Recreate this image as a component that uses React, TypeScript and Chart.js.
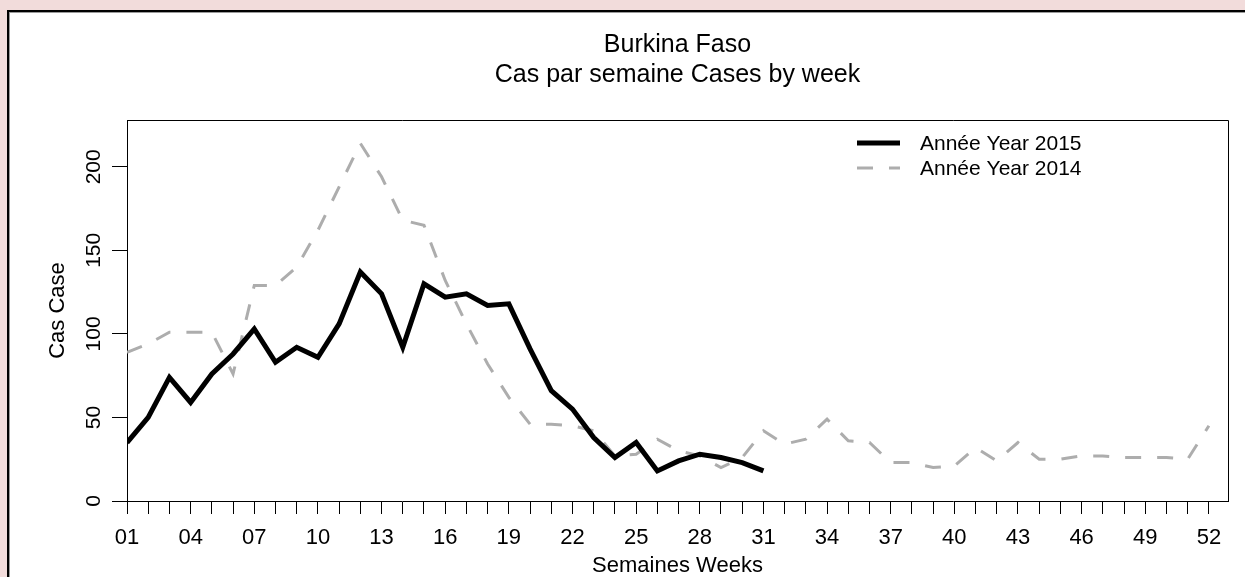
import React, { useEffect, useRef } from 'react';
import { Chart, registerables } from 'chart.js';

Chart.register(...registerables);

const weeks = [
  1, 2, 3, 4, 5, 6, 7, 8, 9, 10, 11, 12, 13, 14, 15, 16, 17, 18, 19, 20, 21, 22, 23, 24, 25, 26,
  27, 28, 29, 30, 31, 32, 33, 34, 35, 36, 37, 38, 39, 40, 41, 42, 43, 44, 45, 46, 47, 48, 49, 50, 51, 52,
];

const cases2015 = [
  35, 50, 74, 59, 76, 88, 103, 83, 92, 86, 106, 137, 124, 92, 130, 122, 124, 117, 118, 91, 66, 55, 38,
  26, 35, 18, 24, 28, 26, 23, 18,
];

const cases2014 = [
  89, 94, 101, 101, 101, 76, 129, 129, 140, 162, 188, 214, 194, 168, 165, 132, 106, 82, 62, 46, 46, 45,
  42, 27, 28, 37, 30, 27, 20, 26, 42, 34, 37, 49, 36, 35, 23, 23, 20, 21, 32, 24, 35, 25, 25, 27, 27, 26,
  26, 26, 25, 45,
];

const seriesLabels = ['Année Year 2015', 'Année Year 2014'];
const titleText = 'Burkina Faso';
const subtitleText = 'Cas par semaine Cases by week';
const xTitle = 'Semaines Weeks';
const yTitle = 'Cas Case';

const FONT = '"Liberation Sans", Arial, Helvetica, sans-serif';

const frameAndLegend = {
  id: 'frameAndLegend',
  afterDraw(chart: any) {
    const { ctx, chartArea } = chart;
    ctx.save();
    // top & right frame lines
    ctx.strokeStyle = '#000';
    ctx.lineWidth = 1;
    ctx.beginPath();
    ctx.moveTo(Math.round(chartArea.left) + 0.5, Math.round(chartArea.top) + 0.5);
    ctx.lineTo(Math.round(chartArea.right) + 0.5, Math.round(chartArea.top) + 0.5);
    ctx.lineTo(Math.round(chartArea.right) + 0.5, Math.round(chartArea.bottom) + 0.5);
    ctx.stroke();

    // legend inside the plot, top right
    const x0 = chartArea.right - 371;
    chart.data.datasets.forEach((ds: any, i: number) => {
      const y = chartArea.top + 23 + i * 25;
      ctx.beginPath();
      ctx.strokeStyle = ds.borderColor;
      ctx.lineWidth = ds.borderWidth;
      ctx.lineCap = 'butt';
      ctx.setLineDash(ds.borderDash || []);
      ctx.moveTo(x0, y);
      ctx.lineTo(x0 + 43, y);
      ctx.stroke();
      ctx.setLineDash([]);
      ctx.fillStyle = '#000';
      ctx.font = `21px ${FONT}`;
      ctx.textBaseline = 'middle';
      ctx.textAlign = 'left';
      ctx.fillText(ds.label, x0 + 63, y + 1);
    });
    ctx.restore();
  },
};

export default function App() {
  const canvasRef = useRef<HTMLCanvasElement | null>(null);

  useEffect(() => {
    const canvas = canvasRef.current;
    if (!canvas) return;
    const chart = new Chart(canvas, {
      type: 'line',
      data: {
        labels: weeks,
        datasets: [
          {
            label: seriesLabels[0],
            data: cases2015,
            borderColor: '#000000',
            borderWidth: 5,
            pointRadius: 0,
            tension: 0,
            fill: false,
            borderJoinStyle: 'miter',
          },
          {
            label: seriesLabels[1],
            data: cases2014,
            borderColor: '#adadad',
            borderWidth: 3,
            borderDash: [16, 16],
            pointRadius: 0,
            tension: 0,
            fill: false,
          },
        ],
      },
      options: {
        responsive: false,
        animation: false,
        layout: { padding: { left: 47, right: 17, top: 0, bottom: 0 } },
        plugins: {
          legend: { display: false },
          tooltip: { enabled: false },
          title: {
            display: true,
            text: titleText,
            color: '#000',
            fullSize: false,
            font: { family: FONT, size: 25, weight: 'normal', lineHeight: 1.2 },
            padding: { top: 30, bottom: 0 },
          },
          subtitle: {
            display: true,
            text: subtitleText,
            color: '#000',
            fullSize: false,
            font: { family: FONT, size: 25, weight: 'normal', lineHeight: 1.2 },
            padding: { top: 0, bottom: 30 },
          },
        },
        scales: {
          x: {
            type: 'linear',
            min: 1,
            max: 52.9,
            afterFit: (scale: any) => {
              scale.height = 76;
            },
            border: { display: true, color: '#000', width: 1 },
            grid: {
              drawOnChartArea: false,
              drawTicks: true,
              tickLength: 13,
              color: '#000',
              lineWidth: 1,
            },
            ticks: {
              stepSize: 1,
              autoSkip: false,
              includeBounds: false,
              maxRotation: 0,
              minRotation: 0,
              padding: 11,
              color: '#000',
              font: { family: FONT, size: 22, lineHeight: 1.2 },
              callback: (v: any) => {
                const n = Number(v);
                return (n - 1) % 3 === 0 ? String(n).padStart(2, '0') : '';
              },
            },
            title: {
              display: true,
              text: xTitle,
              color: '#000',
              font: { family: FONT, size: 22, lineHeight: 1 },
              padding: { top: 0, bottom: 0 },
            },
          },
          y: {
            type: 'linear',
            min: 0,
            max: 228,
            afterFit: (scale: any) => {
              scale.width = 80;
            },
            border: { display: true, color: '#000', width: 1 },
            grid: {
              drawOnChartArea: false,
              drawTicks: true,
              tickLength: 15,
              color: '#000',
              lineWidth: 1,
            },
            ticks: {
              stepSize: 50,
              includeBounds: false,
              minRotation: 90,
              maxRotation: 90,
              crossAlign: 'center',
              padding: 0,
              color: '#000',
              font: { family: FONT, size: 21, lineHeight: 1.2 },
            },
            title: {
              display: true,
              text: yTitle,
              color: '#000',
              font: { family: FONT, size: 22, lineHeight: 1 },
              padding: { top: 0, bottom: 0 },
            },
          },
        },
      } as any,
      plugins: [frameAndLegend],
    });
    return () => chart.destroy();
  }, []);

  return (
    <div
      style={{
        position: 'fixed',
        left: 0,
        top: 0,
        width: 1245,
        height: 577,
        background: '#f2dcdb',
        overflow: 'hidden',
      }}
    >
      <div
        style={{
          position: 'absolute',
          left: 7,
          top: 10,
          width: 1260,
          height: 600,
          background: '#ffffff',
          borderTop: '2px solid #000',
          borderLeft: '2px solid #000',
          boxShadow: 'inset 1px 1px 0 #9a9a9a',
          boxSizing: 'border-box',
        }}
      />
      <canvas
        ref={canvasRef}
        width={1245}
        height={577}
        style={{ position: 'absolute', left: 0, top: 0, width: 1245, height: 577 }}
      />
    </div>
  );
}
